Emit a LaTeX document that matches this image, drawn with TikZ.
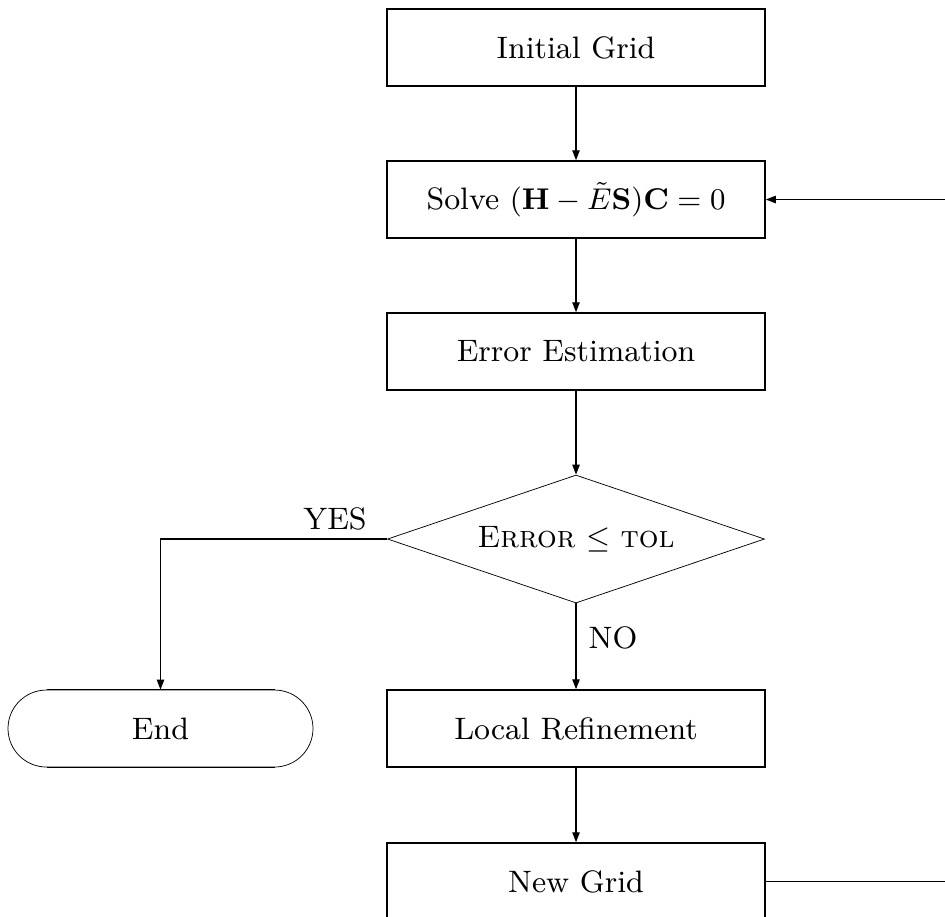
\documentclass[tikz,border=0pt]{standalone}
\usetikzlibrary{shapes.geometric,shapes.misc,arrows.meta,calc}
\begin{document}
\begin{tikzpicture}[x=0.3pt,y=-0.3pt,
  every node/.style={font=\fontsize{9.3}{11.2}\selectfont},
  procbox/.style={draw,line width=0.45pt,rectangle,inner sep=0pt,minimum width=113.4pt,minimum height=23.1pt},
  decbox/.style={draw,line width=0.22pt,diamond,aspect=2.95,inner sep=0pt,minimum width=113.1pt,minimum height=38.4pt},
  termbox/.style={draw,line width=0.22pt,rounded rectangle,inner sep=0pt,minimum width=91.5pt,minimum height=23.1pt},
  conn/.style={line width=0.42pt},
  arr/.style={conn,-{Triangle[length=3pt,width=2.2pt]}},
  lbl/.style={inner sep=1pt}]
\clip (0,0) rectangle (945,916);
\node[procbox] (init) at (576,47.5) {Initial Grid};
\node[procbox] (solve) at (576,199.5) {Solve $(\mathbf{H}-\tilde{E}\mathbf{S})\mathbf{C}=0$};
\node[procbox] (est) at (576,351.5) {Error Estimation};
\node[decbox] (dec) at (576,539) {\textsc{Error} $\leq$ \textsc{tol}};
\node[termbox] (end) at (160.5,728.5) {End};
\node[procbox] (ref) at (576,728.5) {Local Refinement};
\node[procbox] (new) at (576,881.5) {New Grid};
\coordinate (loop) at (952,881.5);
\draw[line width=0.5pt] ($(end.north)+(-114,0)$) -- ($(end.north)+(114,0)$);
\draw[line width=0.42pt] ($(end.south)+(-114,0)$) -- ($(end.south)+(114,0)$);
\draw[arr] (init) -- (solve);
\draw[arr] (solve) -- (est);
\draw[arr] (est) -- (dec.north);
\draw[arr] (dec.west) -| (end.north);
\draw[arr] (dec.south) -- (ref);
\draw[arr] (ref) -- (new);
\draw[arr] (new.east) -- (loop) |- (solve.east);
\node[lbl] (yes) at (335,519) {YES};
\node[lbl] (no) at (613,638) {NO};
\end{tikzpicture}
\end{document}
